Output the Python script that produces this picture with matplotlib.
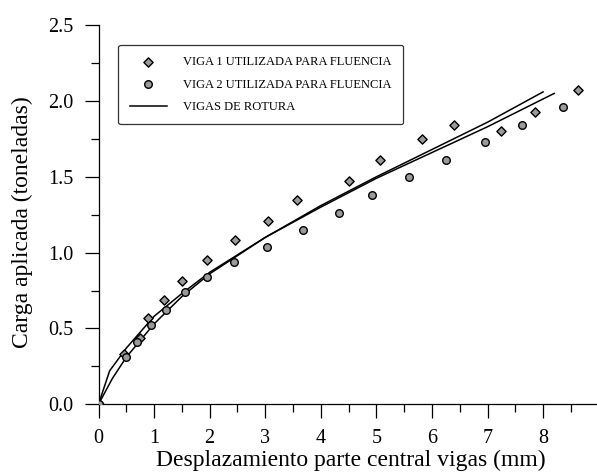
import numpy as np
import matplotlib
matplotlib.use("Agg")
import matplotlib.pyplot as plt
from matplotlib.ticker import MultipleLocator, FormatStrFormatter

plt.rcParams['font.family'] = ['Liberation Serif', 'DejaVu Serif']

# Viga 1 utilizada para fluencia (rombos)
x_v1 = [0.0, 0.45, 0.75, 0.89, 1.17, 1.51, 1.96, 2.45, 3.05, 3.57, 4.5, 5.07, 5.82, 6.39, 7.24, 7.85, 8.63]
y_v1 = [0.0, 0.33, 0.44, 0.57, 0.69, 0.81, 0.95, 1.08, 1.21, 1.35, 1.47, 1.61, 1.75, 1.84, 1.80, 1.93, 2.07]

# Viga 2 utilizada para fluencia (circulos)
x_v2 = [0.0, 0.49, 0.70, 0.95, 1.22, 1.55, 1.95, 2.43, 3.03, 3.68, 4.32, 4.92, 5.59, 6.25, 6.96, 7.62, 8.36]
y_v2 = [0.0, 0.31, 0.41, 0.52, 0.62, 0.74, 0.84, 0.94, 1.04, 1.15, 1.26, 1.38, 1.50, 1.61, 1.73, 1.84, 1.96]

# Vigas de rotura (dos curvas)
x_r1 = [0.0, 0.2, 0.5, 1.0, 1.5, 2.0, 3.0, 4.0, 5.0, 6.0, 7.0, 8.0]
y_r1 = [0.0, 0.22, 0.37, 0.58, 0.73, 0.87, 1.10, 1.31, 1.50, 1.68, 1.86, 2.06]
x_r2 = [0.0, 0.25, 0.5, 1.0, 1.5, 2.0, 3.0, 4.0, 5.0, 6.0, 7.0, 8.2]
y_r2 = [0.0, 0.17, 0.31, 0.53, 0.71, 0.86, 1.10, 1.30, 1.49, 1.66, 1.83, 2.05]

fig = plt.figure(figsize=(5.97, 4.75), dpi=100)
ax = fig.add_axes([0.165, 0.149, 0.835, 0.798])

ax.plot(x_r1, y_r1, color='black', lw=1.1)
ax.plot(x_r2, y_r2, color='black', lw=1.1, label='VIGAS DE ROTURA')
ax.scatter(x_v1, y_v1, marker='D', s=22, facecolor='#9a9a9a', edgecolor='black',
           linewidths=1.0, zorder=3, label='VIGA 1 UTILIZADA PARA FLUENCIA')
ax.scatter(x_v2, y_v2, marker='o', s=30, facecolor='#9a9a9a', edgecolor='black',
           linewidths=1.0, zorder=3, label='VIGA 2 UTILIZADA PARA FLUENCIA')

ax.set_xlim(0, 8.97)
ax.set_ylim(0, 2.5)
ax.spines['top'].set_visible(False)
ax.spines['right'].set_visible(False)
ax.spines['left'].set_linewidth(0.9)
ax.spines['bottom'].set_linewidth(0.9)

ax.xaxis.set_major_locator(MultipleLocator(1))
ax.xaxis.set_minor_locator(MultipleLocator(0.5))
ax.yaxis.set_major_locator(MultipleLocator(0.5))
ax.yaxis.set_minor_locator(MultipleLocator(0.25))
ax.yaxis.set_major_formatter(FormatStrFormatter('%.1f'))
ax.tick_params(which='major', direction='out', length=10, width=0.9, labelsize=14.5, pad=8)
ax.tick_params(which='minor', direction='out', length=6, width=0.9)

ax.set_xlabel('Desplazamiento parte central vigas (mm)', fontsize=17, va='center')
ax.xaxis.set_label_coords(0.507, -0.148)
ax.set_ylabel('Carga aplicada (toneladas)', fontsize=17, va='center')
ax.yaxis.set_label_coords(-0.153, 0.48)

handles, labels = ax.get_legend_handles_labels()
order = [1, 2, 0]
leg = ax.legend([handles[i] for i in order], [labels[i] for i in order],
                loc='upper left', bbox_to_anchor=(0.035, 0.955), fontsize=9,
                frameon=True, fancybox=True, edgecolor='black', handlelength=3.0,
                borderpad=0.9, labelspacing=0.85, handletextpad=1.3, borderaxespad=0.2)
leg.get_frame().set_linewidth(0.9)

fig.savefig('out.png', dpi=100)
